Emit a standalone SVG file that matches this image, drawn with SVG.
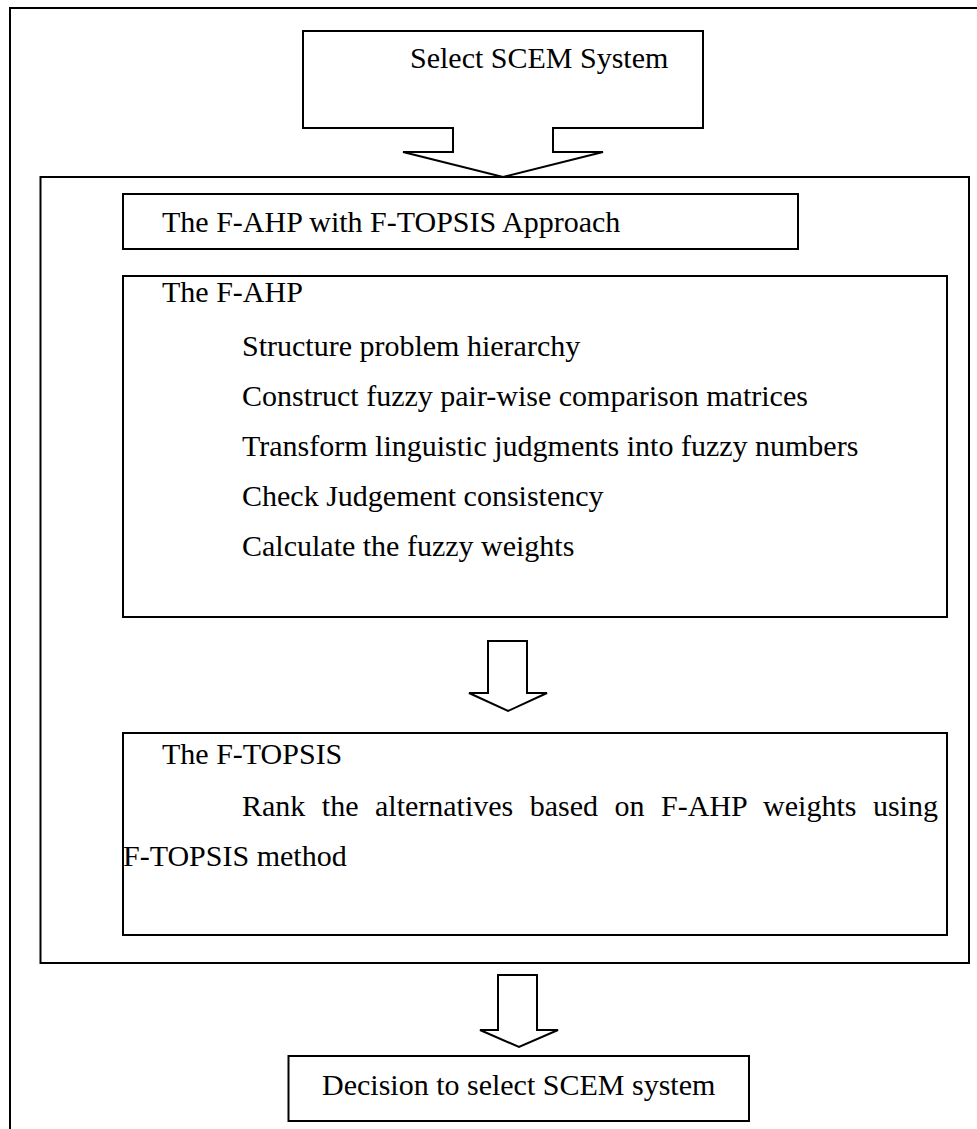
<svg xmlns="http://www.w3.org/2000/svg" width="977" height="1129" viewBox="0 0 977 1129">
  <style>
    .box { fill: #ffffff; stroke: #000000; stroke-width: 2; }
    .arrow { fill: #ffffff; stroke: #000000; stroke-width: 2; stroke-linejoin: miter; }
    .t { font-family: "Liberation Serif", "Times New Roman", serif; font-size: 30px; fill: #000000; }
  </style>
  <rect width="977" height="1129" fill="#ffffff"/>

  <!-- outer page frame (open to the right and bottom) -->
  <g id="frame">
    <path d="M10,1140 L10,8 L990,8" fill="none" stroke="#000" stroke-width="2"/>
  </g>

  <!-- start node: block arrow pointing down -->
  <g id="select-scem">
    <polygon class="arrow" points="303,31 703,31 703,128 553,128 553,152 603,152 503,177 403,152 453,152 453,128 303,128"/>
    <text class="t" x="410" y="68">Select SCEM System</text>
  </g>

  <!-- container of the combined approach -->
  <g id="approach">
    <rect class="box" x="40.5" y="177" width="928.5" height="786"/>
  </g>

  <g id="approach-title">
    <rect class="box" x="123" y="194" width="675" height="55"/>
    <text class="t" x="162" y="232">The F-AHP with F-TOPSIS Approach</text>
  </g>

  <g id="f-ahp">
    <rect class="box" x="123" y="276" width="824" height="341"/>
    <text class="t" x="162" y="302">The F-AHP</text>
    <text class="t" x="242" y="356">Structure problem hierarchy</text>
    <text class="t" x="242" y="406">Construct fuzzy pair-wise comparison matrices</text>
    <text class="t" x="242" y="456">Transform linguistic judgments into fuzzy numbers</text>
    <text class="t" x="242" y="506">Check Judgement consistency</text>
    <text class="t" x="242" y="556">Calculate the fuzzy weights</text>
  </g>

  <g id="f-topsis">
    <rect class="box" x="123" y="733" width="824" height="202"/>
    <text class="t" x="162" y="764">The F-TOPSIS</text>
    <!-- first line is justified to the right margin -->
    <text class="t" x="242" y="816" word-spacing="9">Rank the alternatives based on F-AHP weights using</text>
    <text class="t" x="123" y="866">F-TOPSIS method</text>
  </g>

  <g id="decision">
    <rect class="box" x="288.5" y="1056" width="460.5" height="65"/>
    <text class="t" x="322" y="1095">Decision to select SCEM system</text>
  </g>

  <!-- block-arrow connectors -->
  <g id="connectors">
    <polygon class="arrow" points="488,641 527,641 527,693 547,693 508,711 469,693 488,693"/>
    <polygon class="arrow" points="498,975 537,975 537,1030 558,1030 519,1047 480,1030 498,1030"/>
  </g>
</svg>
